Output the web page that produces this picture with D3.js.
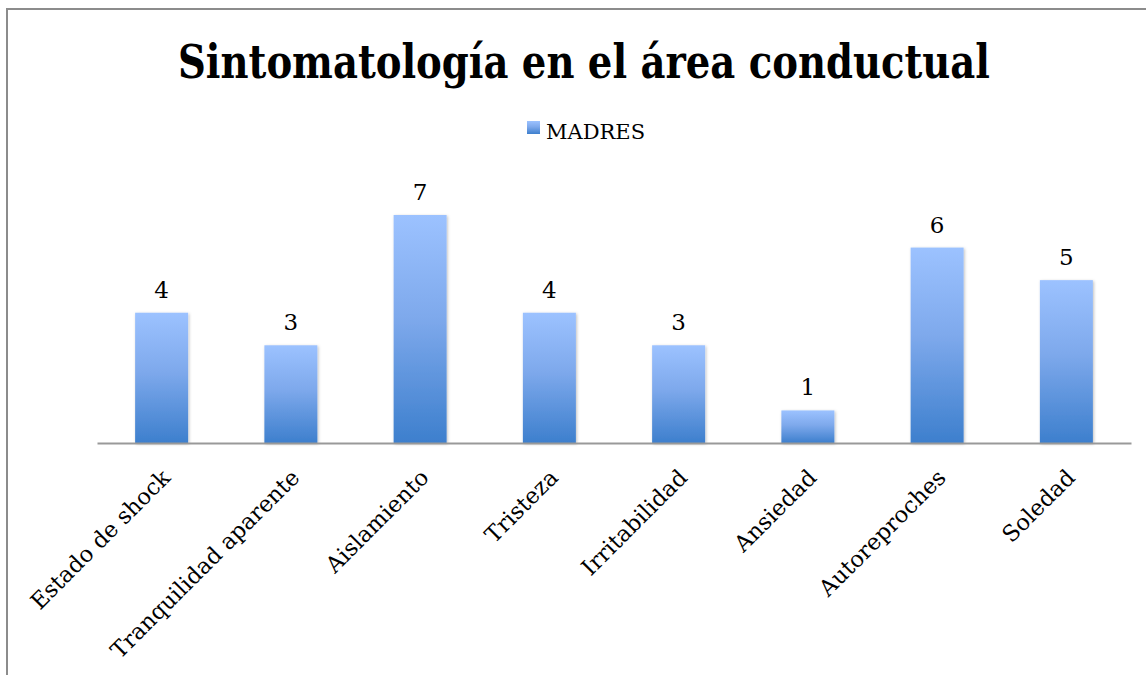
<!DOCTYPE html>
<html>
<head>
<meta charset="utf-8">
<script src="https://cdn.jsdelivr.net/npm/d3@7"></script>
<style>
  body { margin: 0; background: #fff; }
  text { font-family: "DejaVu Serif", "Liberation Serif", serif; fill: #000; }
</style>
</head>
<body>
<div id="chart"></div>
<script>
let categories = ["Estado de shock", "Tranquilidad aparente", "Aislamiento", "Tristeza",
                  "Irritabilidad", "Ansiedad", "Autoreproches", "Soledad"];
let madres = [4, 3, 7, 4, 3, 1, 6, 5];
let seriesName = "MADRES";
let title = "Sintomatología en el área conductual";

let width = 1146, height = 675,
    base = 443,
    left = 97, right = 1131;

let svg = d3.select('#chart').append('svg')
    .attr('width', width)
    .attr('height', height);

let defs = svg.append('defs');
let grad = defs.append('linearGradient')
    .attr('id', 'barGrad')
    .attr('x1', 0).attr('y1', 0).attr('x2', 0).attr('y2', 1);
grad.append('stop').attr('offset', '0%').attr('stop-color', '#9cc2ff');
grad.append('stop').attr('offset', '45%').attr('stop-color', '#7ea9ec');
grad.append('stop').attr('offset', '100%').attr('stop-color', '#3d7fcd');

let shadow = defs.append('filter').attr('id', 'shadow')
    .attr('x', '-20%').attr('y', '-10%').attr('width', '140%').attr('height', '120%');
shadow.append('feDropShadow')
    .attr('dx', 1).attr('dy', 1).attr('stdDeviation', 1.5)
    .attr('flood-color', '#000').attr('flood-opacity', 0.25);

// outer frame (only top and left edges visible)
svg.append('path')
    .attr('d', 'M7,' + height + 'V9H' + width)
    .attr('fill', 'none')
    .attr('stroke', '#8c8c8c')
    .attr('stroke-width', 2);

// title, condensed serif to get close to the original's width
svg.append('text')
    .attr('x', 584)
    .attr('y', 78)
    .attr('text-anchor', 'middle')
    .attr('textLength', 812)
    .attr('lengthAdjust', 'spacingAndGlyphs')
    .style('font-family', '"DejaVu Serif Condensed", "DejaVu Serif", serif')
    .style('font-stretch', 'condensed')
    .style('font-size', '46px')
    .style('font-weight', 'bold')
    .text(title);

// legend
svg.append('rect')
    .attr('x', 527).attr('y', 121)
    .attr('width', 13).attr('height', 13)
    .attr('fill', 'url(#barGrad)');
svg.append('text')
    .attr('x', 546).attr('y', 139)
    .style('font-size', '21px')
    .text(seriesName);

let x = d3.scaleBand()
    .domain(categories)
    .range([left, right])
    .paddingInner(0.59)
    .paddingOuter(0.295);

let y = d3.scaleLinear()
    .domain([0, 7])
    .range([base, 215]);

svg.selectAll('rect.bar')
    .data(madres)
    .enter().append('rect')
    .attr('class', 'bar')
    .attr('x', (d, i) => x(categories[i]))
    .attr('y', d => y(d))
    .attr('width', x.bandwidth())
    .attr('height', d => base - y(d))
    .attr('fill', 'url(#barGrad)')
    .attr('filter', 'url(#shadow)');

// data labels
svg.selectAll('text.val')
    .data(madres)
    .enter().append('text')
    .attr('class', 'val')
    .attr('x', (d, i) => x(categories[i]) + x.bandwidth() / 2)
    .attr('y', d => y(d) - 15)
    .attr('text-anchor', 'middle')
    .style('font-size', '23px')
    .text(d => d);

// x axis
let xAxis = svg.append('g')
    .attr('transform', 'translate(0,' + base + ')')
    .call(d3.axisBottom(x).tickSize(0).tickPadding(0));
xAxis.select('.domain')
    .attr('stroke', '#999')
    .attr('stroke-width', 2);
xAxis.selectAll('.tick text')
    .attr('text-anchor', 'end')
    .attr('dy', 0)
    .attr('transform', 'translate(10,36) rotate(-45)')
    .style('font-family', '"DejaVu Serif", serif')
    .style('font-size', '22.5px')
    .style('fill', '#000');
</script>
</body>
</html>
